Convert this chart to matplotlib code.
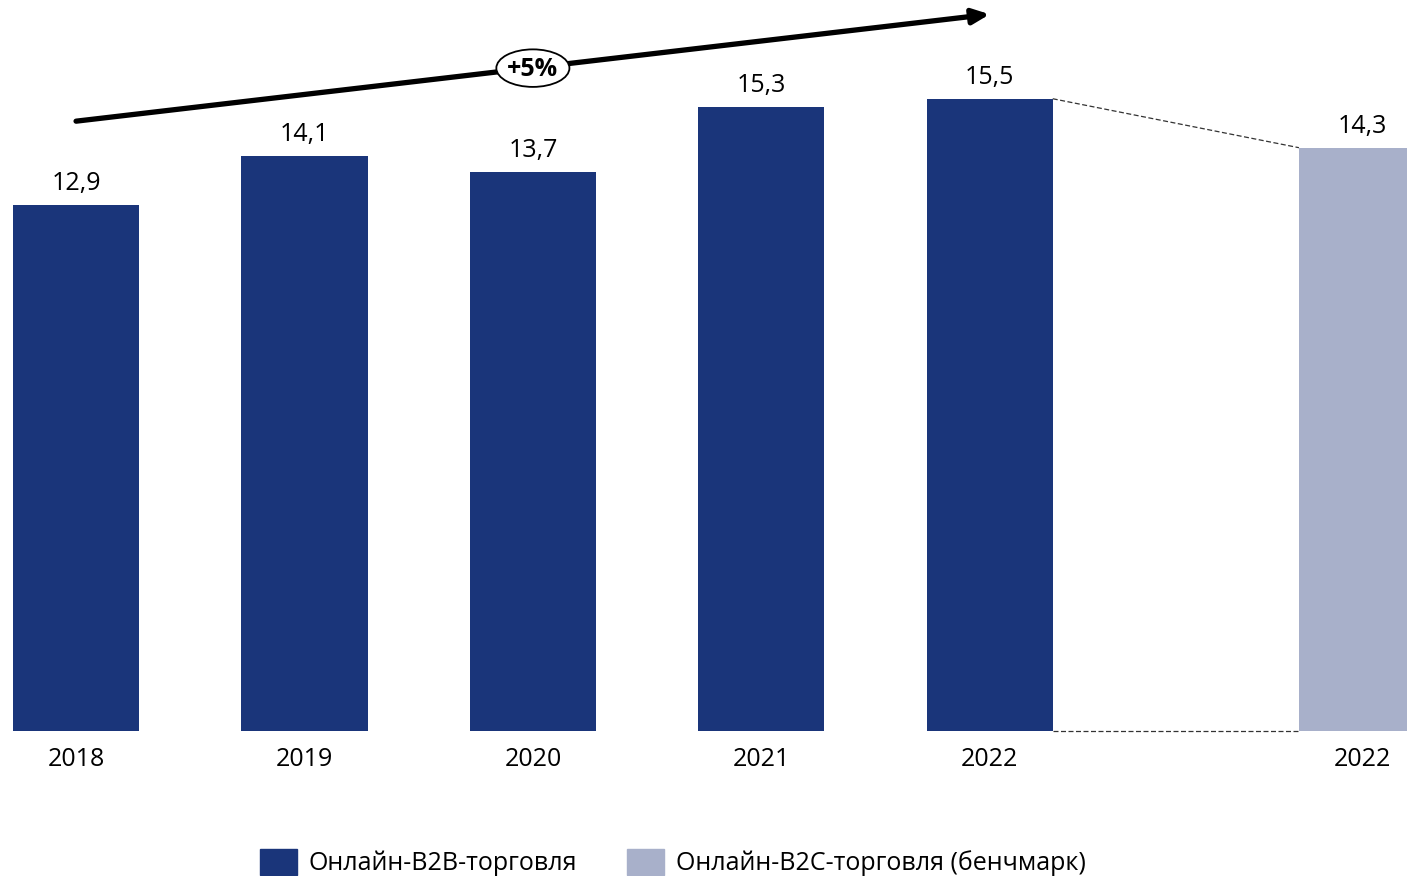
import matplotlib
matplotlib.use("Agg")
import matplotlib.pyplot as plt
import matplotlib.patches as patches

plt.rcParams["font.family"] = ["Open Sans", "DejaVu Sans"]

# ── данные ──
years = ["2018", "2019", "2020", "2021", "2022", "2022"]
values = [12.9, 14.1, 13.7, 15.3, 15.5, 14.3]
series = ["b2b", "b2b", "b2b", "b2b", "b2b", "b2c"]
positions = [0, 1, 2, 3, 4, 5.63]
cagr_label = "+5%"
legend_labels = {"b2b": "Онлайн-B2B-торговля", "b2c": "Онлайн-B2C-торговля (бенчмарк)"}

COLORS = {"b2b": "#1A357A", "b2c": "#A8B0CA"}
BAR_W = 0.552
FS = 18

fig = plt.figure(figsize=(14.07, 8.76), dpi=100)
ax = fig.add_axes([0, 0, 1, 1])
ax.set_xlim(-0.333, 5.827)
ax.set_ylim(-3.55, 17.92)
ax.axis("off")

for x, v, s, yr in zip(positions, values, series, years):
    ax.bar(x, v, width=BAR_W, color=COLORS[s], edgecolor="none")
    ax.text(x, v + 0.22, f"{v:.1f}".replace(".", ","), ha="center", va="bottom",
            fontsize=FS, color="black")
    ax.text(x, -0.4, yr, ha="center", va="top", fontsize=FS, color="black")

# пунктир между последним B2B и бенчмарком
x0 = positions[4] + BAR_W / 2
x1 = positions[5] - BAR_W / 2
ax.plot([x0, x1], [values[4], values[5]], ls=(0, (4, 2)), lw=0.9, color="#333333")
ax.plot([x0, x1], [0, 0], ls=(0, (4, 2)), lw=0.9, color="#333333")

# стрелка роста
ax.annotate("", xy=(4.0, 17.57), xytext=(0.0, 14.95),
            arrowprops=dict(arrowstyle="-|>,head_length=1.0,head_width=0.45",
                            lw=3.8, color="black", shrinkA=0, shrinkB=0))
ax.add_patch(patches.Ellipse((2.0, 16.25), 0.32, 0.92, facecolor="white",
                             edgecolor="black", lw=1.3, zorder=5))
ax.text(2.0, 16.22, cagr_label, ha="center", va="center", fontsize=18,
        fontweight="bold", zorder=6)

# легенда
handles = [patches.Patch(color=COLORS[k], label=legend_labels[k]) for k in ("b2b", "b2c")]
fig.legend(handles=handles, loc="lower center", bbox_to_anchor=(0.478, -0.026), ncol=2,
           frameon=False, fontsize=FS, handlelength=1.5, handleheight=1.2,
           columnspacing=2.0, handletextpad=0.45)

fig.savefig("out.png", dpi=100)
